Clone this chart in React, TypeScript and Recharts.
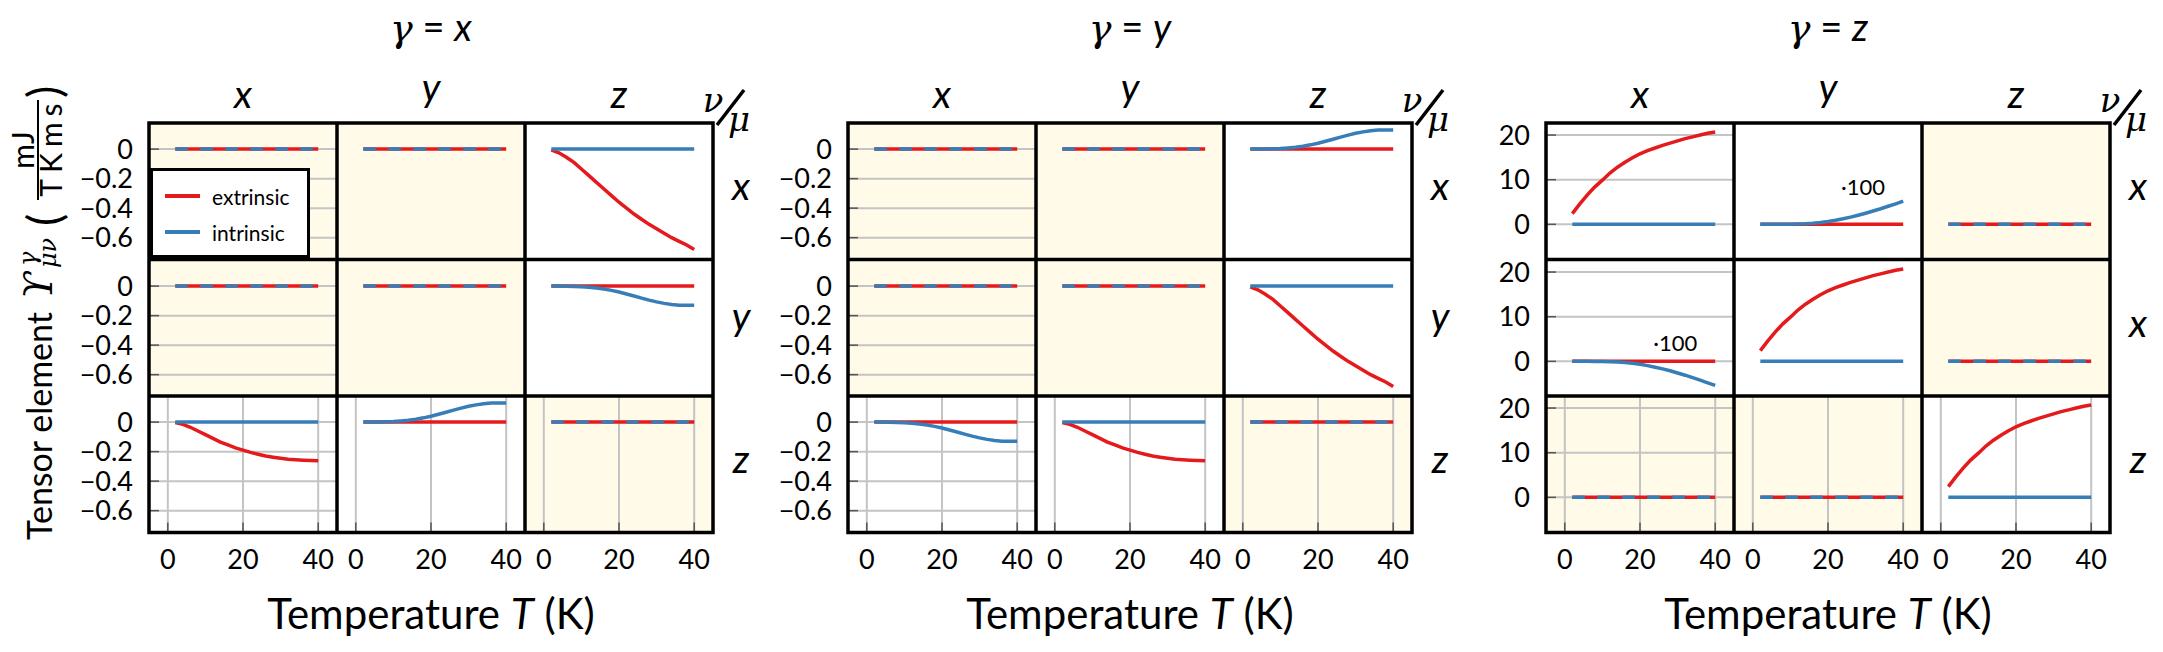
import React from 'react';
import { LineChart, Line, XAxis, YAxis, CartesianGrid, Legend, ReferenceDot } from 'recharts';

// temperature samples (K)
const TEMPS = [2, 4, 6, 8, 10, 12, 14, 16, 18, 20, 22, 24, 26, 28, 30, 32, 34, 36, 38, 40];

// series
const ZEROS = [0, 0, 0, 0, 0, 0, 0, 0, 0, 0, 0, 0, 0, 0, 0, 0, 0, 0, 0, 0];
const EXT_FALL = [-0.005, -0.025, -0.055, -0.09, -0.135, -0.18, -0.225, -0.27, -0.315, -0.36, -0.4, -0.44, -0.475, -0.51, -0.54, -0.57, -0.6, -0.625, -0.65, -0.68];
const EXT_FALL_SMALL = [-0.003, -0.015, -0.035, -0.06, -0.085, -0.11, -0.135, -0.155, -0.175, -0.19, -0.205, -0.218, -0.23, -0.238, -0.245, -0.251, -0.255, -0.258, -0.26, -0.262];
const INT_STEP_UP = [0, 0, 0.001, 0.002, 0.004, 0.008, 0.013, 0.02, 0.029, 0.04, 0.053, 0.067, 0.081, 0.095, 0.107, 0.117, 0.125, 0.129, 0.13, 0.13];
const INT_STEP_DOWN = [0, 0, -0.001, -0.002, -0.004, -0.008, -0.013, -0.02, -0.029, -0.04, -0.053, -0.067, -0.081, -0.095, -0.107, -0.117, -0.125, -0.129, -0.13, -0.13];
const EXT_RISE = [2.4, 4.6, 6.6, 8.4, 9.9, 11.5, 12.8, 13.9, 14.9, 15.8, 16.5, 17.1, 17.7, 18.2, 18.7, 19.2, 19.6, 20.0, 20.4, 20.7];
const INT_RISE_X100 = [0, 0, 0, 0.01, 0.03, 0.07, 0.14, 0.25, 0.42, 0.65, 0.93, 1.25, 1.62, 2.04, 2.5, 3.0, 3.5, 4.05, 4.6, 5.2];
const INT_FALL_X100 = [0, 0, 0, -0.01, -0.03, -0.07, -0.14, -0.25, -0.42, -0.65, -0.95, -1.3, -1.68, -2.1, -2.6, -3.1, -3.65, -4.2, -4.8, -5.4];

const GAMMAS = ['x', 'y', 'z'];
const COL_LABELS = ['x', 'y', 'z'];
const ROW_LABELS = [['x', 'y', 'z'], ['x', 'y', 'z'], ['x', 'x', 'z']];
const X_TICKS = [0, 20, 40];
const X_TICK_LABELS = ['0', '20', '40'];
const Y_TICKS_SMALL = [0, -0.2, -0.4, -0.6];
const Y_TICK_LABELS_SMALL = ['0', '\u22120.2', '\u22120.4', '\u22120.6'];
const Y_TICKS_BIG = [0, 10, 20];
const Y_TICK_LABELS_BIG = ['0', '10', '20'];
const NOTE_TEXT = '\u00b7100';

const RED = '#e41a1c';
const BLUE = '#377eb8';
const PALE = '#fffbe8';

type Cell = { ext: number[]; int: number[]; note?: [number, number] };
const Z: Cell = { ext: ZEROS, int: ZEROS };

const GROUPS: Cell[][][] = [
  [
    [Z, Z, { ext: EXT_FALL, int: ZEROS }],
    [Z, Z, { ext: ZEROS, int: INT_STEP_DOWN }],
    [{ ext: EXT_FALL_SMALL, int: ZEROS }, { ext: ZEROS, int: INT_STEP_UP }, Z],
  ],
  [
    [Z, Z, { ext: ZEROS, int: INT_STEP_UP }],
    [Z, Z, { ext: EXT_FALL, int: ZEROS }],
    [{ ext: ZEROS, int: INT_STEP_DOWN }, { ext: EXT_FALL_SMALL, int: ZEROS }, Z],
  ],
  [
    [{ ext: EXT_RISE, int: ZEROS }, { ext: ZEROS, int: INT_RISE_X100, note: [29.3, 8.3] }, Z],
    [{ ext: ZEROS, int: INT_FALL_X100, note: [29.4, 4.0] }, { ext: EXT_RISE, int: ZEROS }, Z],
    [Z, Z, { ext: EXT_RISE, int: ZEROS }],
  ],
];

// layout
const GROUP_LEFT = [149, 848, 1546];
const TOP = 123;
const PW = 188;
const PH = 136.5;
const YAW = 80;
const XAH = 50;
const PAD_TOP = 14;
const X_DOMAIN: [number, number] = [-5, 45];
const Y_DOMAIN_SMALL: [number, number] = [-0.748, 0.177];
const Y_DOMAIN_BIG: [number, number] = [-7.87, 22.7];
const SANS = 'Lato, "DejaVu Sans", sans-serif';
const SERIF = '"DejaVu Serif", serif';
const LETTER_SHIFT: Record<string, number> = { x: 0, y: -7, z: 0 };

const tickFont = { fontSize: 27, fill: '#000', fontFamily: SANS };
const tickLine = { stroke: '#555', strokeWidth: 1.5 };

const renderLegend = (props: any) => {
  const items = props.payload ?? [];
  return (
    <div style={{ width: 154, height: 84, border: '3px solid #000', background: '#fff', position: 'relative', fontFamily: SANS, fontSize: 21, color: '#000' }}>
      {items.map((it: any, i: number) => (
        <div key={it.value} style={{ position: 'absolute', left: 12, top: 11 + i * 36, height: 28, display: 'flex', alignItems: 'center' }}>
          <span style={{ display: 'inline-block', width: 35, height: 3.5, background: it.color }} />
          <span style={{ marginLeft: 12, lineHeight: 1 }}>{it.value}</span>
        </div>
      ))}
    </div>
  );
};

function Panel({ g, r, c }: { g: number; r: number; c: number }) {
  const cell = GROUPS[g][r][c];
  const zero = cell.ext === ZEROS && cell.int === ZEROS;
  const isLeft = c === 0;
  const isBottom = r === 2;
  const yaw = isLeft ? YAW : 0;
  const xah = isBottom ? XAH : 0;
  const big = g === 2;
  const yTicks = big ? Y_TICKS_BIG : Y_TICKS_SMALL;
  const yLabels = big ? Y_TICK_LABELS_BIG : Y_TICK_LABELS_SMALL;
  const yDomain = big ? Y_DOMAIN_BIG : Y_DOMAIN_SMALL;
  const data = TEMPS.map((T, i) => ({ T, extrinsic: cell.ext[i], intrinsic: cell.int[i] }));
  const showLegend = g === 0 && r === 0 && c === 0;

  return (
    <div style={{ position: 'absolute', left: GROUP_LEFT[g] + c * PW - yaw, top: TOP + r * PH - PAD_TOP }}>
      <LineChart width={PW + yaw} height={PH + xah + PAD_TOP} data={data} margin={{ top: PAD_TOP, right: 0, bottom: 0, left: 0 }}>
        <CartesianGrid stroke="#c4c4c4" strokeWidth={2} fill={zero ? PALE : '#fff'} fillOpacity={1} />
        <XAxis
          type="number"
          dataKey="T"
          domain={X_DOMAIN}
          allowDataOverflow
          ticks={X_TICKS}
          height={xah}
          axisLine={false}
          tickLine={tickLine}
          tickSize={-10}
          tickMargin={27}
          tick={isBottom ? tickFont : false}
          tickFormatter={(v: number) => X_TICK_LABELS[X_TICKS.indexOf(v)] ?? String(v)}
          interval={0}
        />
        <XAxis xAxisId="top" orientation="top" type="number" domain={X_DOMAIN} allowDataOverflow ticks={X_TICKS} height={0} axisLine={false} tickLine={tickLine} tickSize={-10} tick={false} interval={0} />
        <YAxis
          type="number"
          domain={yDomain}
          allowDataOverflow
          ticks={yTicks}
          width={yaw}
          axisLine={false}
          tickLine={tickLine}
          tickSize={-10}
          tickMargin={26}
          tick={isLeft ? tickFont : false}
          tickFormatter={(v: number) => yLabels[yTicks.indexOf(v)] ?? String(v)}
          interval={0}
        />
        <YAxis yAxisId="right" orientation="right" type="number" domain={yDomain} allowDataOverflow ticks={yTicks} width={0} axisLine={false} tickLine={tickLine} tickSize={-10} tick={false} interval={0} />
        <Line dataKey="extrinsic" name="extrinsic" stroke={RED} strokeWidth={3.5} dot={false} isAnimationActive={false} />
        <Line
          dataKey="intrinsic"
          name="intrinsic"
          stroke={BLUE}
          strokeWidth={3.5}
          dot={false}
          isAnimationActive={false}
          strokeDasharray={zero ? '12.5 12.5' : undefined}
        />
        {cell.note && (
          <ReferenceDot
            x={cell.note[0]}
            y={cell.note[1]}
            r={0}
            fill="none"
            stroke="none"
            label={{ value: NOTE_TEXT, position: 'center', fontSize: 22, fill: '#000', fontFamily: SANS }}
          />
        )}
        {showLegend && (
          <Legend
            layout="horizontal"
            verticalAlign="middle"
            align="center"
            content={renderLegend}
            wrapperStyle={{ left: YAW + 1, top: 45 + PAD_TOP, width: 160, height: 90 }}
          />
        )}
      </LineChart>
    </div>
  );
}

function Overlay() {
  return (
    <svg width={2163} height={652} style={{ position: 'absolute', left: 0, top: 0, pointerEvents: 'none' }}>
      {GAMMAS.map((gam, g) => {
        const L = GROUP_LEFT[g];
        const R = L + 3 * PW;
        const cx = L + 1.5 * PW;
        return (
          <g key={gam}>
            <rect x={L} y={TOP} width={3 * PW} height={3 * PH} fill="none" stroke="#000" strokeWidth={3.5} />
            {[1, 2].map((k) => (
              <g key={k}>
                <line x1={L + k * PW} x2={L + k * PW} y1={TOP} y2={TOP + 3 * PH} stroke="#000" strokeWidth={3.5} />
                <line x1={L} x2={R} y1={TOP + k * PH} y2={TOP + k * PH} stroke="#000" strokeWidth={3.5} />
              </g>
            ))}
            <text x={cx} y={41} textAnchor="middle" fontSize={38} fontFamily={SANS}>
              <tspan fontFamily={SERIF} fontStyle="italic">{'\u03b3'}</tspan>
              <tspan>{' = '}</tspan>
              <tspan fontStyle="italic">{gam}</tspan>
            </text>
            {COL_LABELS.map((lab, c) => (
              <text key={c} x={L + (c + 0.5) * PW} y={108 + LETTER_SHIFT[lab]} textAnchor="middle" fontSize={39} fontStyle="italic" fontFamily={SANS}>
                {lab}
              </text>
            ))}
            {ROW_LABELS[g].map((lab, r) => (
              <text key={r} x={R + 28} y={TOP + (r + 0.5) * PH + 9 + LETTER_SHIFT[lab]} textAnchor="middle" fontSize={39} fontStyle="italic" fontFamily={SANS}>
                {lab}
              </text>
            ))}
            <text x={R} y={112} textAnchor="middle" fontSize={34} fontStyle="italic" fontFamily={SERIF}>{'\u03bd'}</text>
            <line x1={R + 4} y1={125} x2={R + 31} y2={90} stroke="#000" strokeWidth={3.5} />
            <text x={R + 26} y={131} textAnchor="middle" fontSize={34} fontStyle="italic" fontFamily={SERIF}>{'\u03bc'}</text>
            <text x={cx} y={629} textAnchor="middle" fontSize={42} fontFamily={SANS}>
              {'Temperature '}
              <tspan fontStyle="italic">T</tspan>
              {' (K)'}
            </text>
          </g>
        );
      })}
      <g transform="translate(52,540) rotate(-90)" fontFamily={SANS}>
        <text x={0} y={0} fontSize={34}>Tensor element</text>
        <text x={241} y={0} fontSize={40} fontFamily={SERIF} fontStyle="italic">{'\u03d2'}</text>
        <text x={274} y={-16} fontSize={24} fontFamily={SERIF} fontStyle="italic">{'\u03b3'}</text>
        <text x={272} y={4} fontSize={24} fontFamily={SERIF} fontStyle="italic">{'\u03bc\u03bd'}</text>
        <text x={314} y={9} fontSize={46}>(</text>
        <text x={390} y={-18} fontSize={30} textAnchor="middle">mJ</text>
        <line x1={340} x2={440} y1={-14} y2={-14} stroke="#000" strokeWidth={2} />
        <text x={393} y={10} fontSize={30} textAnchor="middle" letterSpacing={6}>TKms</text>
        <text x={442} y={9} fontSize={46}>)</text>
      </g>
    </svg>
  );
}

export default function App() {
  const cells: { g: number; r: number; c: number }[] = [];
  GROUPS.forEach((grp, g) => grp.forEach((row, r) => row.forEach((_, c) => cells.push({ g, r, c }))));
  return (
    <div style={{ position: 'absolute', left: 0, top: 0, width: 2163, height: 652, background: '#fff', overflow: 'hidden' }}>
      {cells.map(({ g, r, c }) => (
        <Panel key={`${g}-${r}-${c}`} g={g} r={r} c={c} />
      ))}
      <Overlay />
    </div>
  );
}
